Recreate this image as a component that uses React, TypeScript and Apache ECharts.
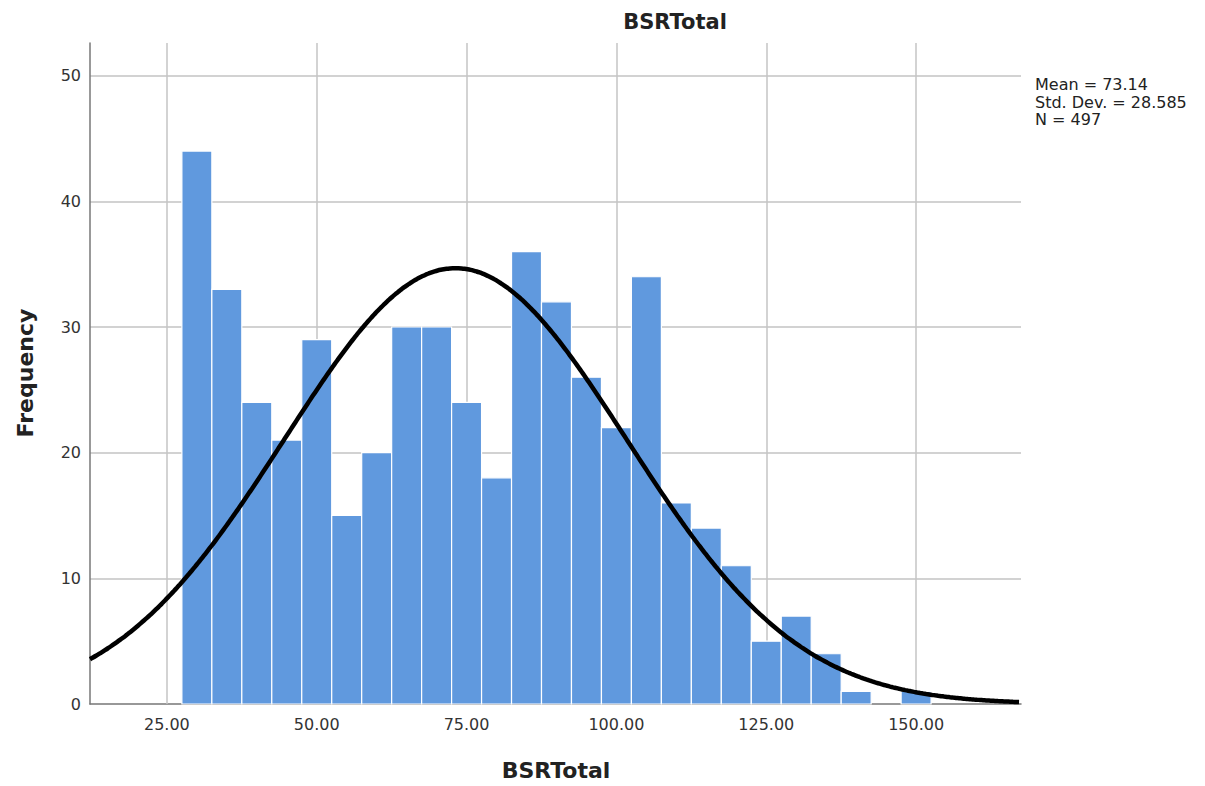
import React, { useEffect, useRef } from "react";
import * as echarts from "echarts";

const binCenters = [30, 35, 40, 45, 50, 55, 60, 65, 70, 75, 80, 85, 90, 95, 100, 105, 110, 115, 120, 125, 130, 135, 140, 145, 150];
const frequencies = [44, 33, 24, 21, 29, 15, 20, 30, 30, 24, 18, 36, 32, 26, 22, 34, 16, 14, 11, 5, 7, 4, 1, 0, 1];
const xTicks = [25, 50, 75, 100, 125, 150];
const MEAN = 73.14;
const SD = 28.585;
const N = 497;
const BIN = 5;
const X_MIN = 12.17;
const X_MAX = 167.5;

const FONT = "'DejaVu Sans', Verdana, sans-serif";

function normalCurve(): number[][] {
  const pts: number[][] = [];
  const scale = (N * BIN) / (SD * Math.sqrt(2 * Math.PI));
  for (let x = X_MIN; x <= X_MAX + 0.001; x += 0.5) {
    const z = (x - MEAN) / SD;
    pts.push([x, scale * Math.exp(-0.5 * z * z)]);
  }
  return pts;
}

export default function App() {
  const ref = useRef<HTMLDivElement>(null);
  useEffect(() => {
    if (!ref.current) return;
    const chart = echarts.init(ref.current, undefined, { renderer: "svg" });
    const barData = binCenters.map((c, i) => [c, frequencies[i]]);
    chart.setOption({
      animation: false,
      backgroundColor: "#ffffff",
      grid: { left: 90, right: 184, top: 43, bottom: 82, containLabel: false },
      xAxis: {
        type: "value",
        min: X_MIN,
        max: X_MAX,
        axisLine: { show: true, onZero: false, lineStyle: { color: "#777777", width: 1.5 } },
        axisTick: { show: false },
        splitLine: { show: false },
        axisLabel: {
          customValues: xTicks,
          formatter: (v: number) => v.toFixed(2),
          color: "#333333",
          fontSize: 16,
          fontFamily: FONT,
          margin: 12,
        },
      },
      yAxis: {
        type: "value",
        min: 0,
        max: 52.6,
        interval: 10,
        axisLine: { show: true, lineStyle: { color: "#777777", width: 1.5 } },
        axisTick: { show: false },
        splitLine: { show: true, showMaxLine: false, showMinLine: false, lineStyle: { color: "#d2d2d2", width: 2 } },
        axisLabel: {
          color: "#333333",
          fontSize: 16,
          fontFamily: FONT,
          margin: 9,
          showMaxLabel: false,
        },
      },
      graphic: [
        {
          type: "text",
          x: 675,
          y: 22,
          style: {
            text: "BSRTotal",
            fontSize: 21,
            fontWeight: "bold",
            fontFamily: FONT,
            fill: "#222222",
            textAlign: "center",
            textVerticalAlign: "middle",
          },
        },
        {
          type: "text",
          x: 556,
          y: 770,
          style: {
            text: "BSRTotal",
            fontSize: 22,
            fontWeight: "bold",
            fontFamily: FONT,
            fill: "#222222",
            textAlign: "center",
            textVerticalAlign: "middle",
          },
        },
        {
          type: "text",
          x: 25,
          y: 373,
          rotation: Math.PI / 2,
          style: {
            text: "Frequency",
            fontSize: 22,
            fontWeight: "bold",
            fontFamily: FONT,
            fill: "#222222",
            textAlign: "center",
            textVerticalAlign: "middle",
          },
        },
        {
          type: "text",
          x: 1035,
          y: 76,
          style: {
            text: `Mean = ${MEAN.toFixed(2)}\nStd. Dev. = ${SD.toFixed(3)}\nN = ${N}`,
            fontSize: 16,
            lineHeight: 17.5,
            fontFamily: FONT,
            fill: "#222222",
            textAlign: "left",
            textVerticalAlign: "top",
          },
        },
      ],
      series: [
        {
          type: "line",
          data: [],
          z: 1,
          silent: true,
          markLine: {
            z: 1,
            silent: true,
            symbol: ["none", "none"],
            label: { show: false },
            lineStyle: { color: "#c4c4c4", width: 1.5, type: "solid" },
            data: xTicks.map((v) => ({ xAxis: v })),
          },
        },
        {
          type: "custom",
          z: 3,
          data: barData,
          renderItem: (params: any, api: any) => {
            const x = api.value(0);
            const y = api.value(1);
            if (!y) return null;
            const p0 = api.coord([x - BIN / 2, y]);
            const p1 = api.coord([x + BIN / 2, 0]);
            return {
              type: "rect",
              shape: { x: p0[0], y: p0[1], width: p1[0] - p0[0], height: p1[1] - p0[1] },
              style: { fill: "#6099de", stroke: "#ffffff", lineWidth: 1.2 },
            };
          },
        },
        {
          type: "line",
          z: 6,
          data: normalCurve(),
          showSymbol: false,
          symbol: "none",
          smooth: true,
          clip: true,
          lineStyle: { color: "#000000", width: 4.5 },
        },
      ],
    });
    return () => chart.dispose();
  }, []);
  return <div ref={ref} style={{ width: 1205, height: 786, position: "absolute", left: 0, top: 0 }} />;
}
